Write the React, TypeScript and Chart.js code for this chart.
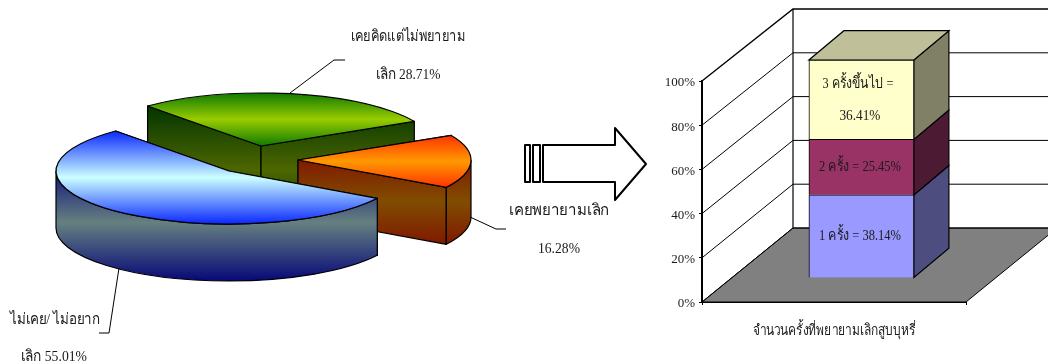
import React, { useEffect, useRef } from "react";
import { Chart, registerables } from "chart.js";

Chart.register(...registerables);

// ---------- data ----------
const pieLabels = ["ไม่เคย/ ไม่อยาก", "เคยคิดแต่ไม่พยายาม", "เคยพยายามเลิก"];
const pieValues = [55.01, 28.71, 16.28];
const barCategories = ["จำนวนครั้งที่พยายามเลิกสูบบุหรี่"];
const barSeriesNames = ["1 ครั้ง", "2 ครั้ง", "3 ครั้งขึ้นไป"];
const onceValues = [38.14];
const twiceValues = [25.45];
const threePlusValues = [36.41];
const barColors = ["#9999FF", "#993366", "#FFFFCC"];
const barSideColors = ["#4D4D80", "#4D1A33", "#808066"];
const barTopColor = "#BFBF99";

// ---------- styling ----------
const FONT = "'Liberation Serif','Noto Sans','DejaVu Serif',serif";
const RY = 53;
const DEPTH = 57;
const sliceOrder = [1, 2, 0];
const sliceStyle = [
  { ox: -1, oy: -1, top: ["#0A28FF", "#CCFFFF"], side: ["#000078", "#668080"], sideRange: [160, 285] },
  { ox: 31, oy: -26, top: ["#0F7A00", "#99CC00"], side: ["#003300", "#4D6600"], sideRange: [104, 236] },
  { ox: 68, oy: -12, top: ["#FF3300", "#FF9900"], side: ["#801A00", "#804D00"], sideRange: [160, 243] },
];

function text(ctx: CanvasRenderingContext2D, s: string, x: number, y: number, w: number, size = 15.5) {
  ctx.save();
  ctx.font = `${size}px ${FONT}`;
  ctx.fillStyle = "#1a1a1a";
  ctx.textAlign = "center";
  ctx.textBaseline = "middle";
  ctx.fillText(s, x, y, w);
  ctx.restore();
}

function poly(ctx: CanvasRenderingContext2D, pts: number[][]) {
  ctx.beginPath();
  pts.forEach((p, i) => (i ? ctx.lineTo(p[0], p[1]) : ctx.moveTo(p[0], p[1])));
}

const pie3dPlugin = {
  id: "pie3d",
  afterDatasetsDraw(chart: any) {
    const ctx: CanvasRenderingContext2D = chart.ctx;
    const arcs = chart.getDatasetMeta(0).data;
    ctx.save();
    ctx.lineJoin = "round";
    ctx.strokeStyle = "#000";
    ctx.lineWidth = 1.2;
    for (const i of sliceOrder) {
      const a = arcs[i];
      const st = sliceStyle[i];
      const rx = a.outerRadius;
      const cx = a.x + st.ox;
      const cy = a.y + st.oy;
      const px = (t: number) => cx + rx * Math.cos(t);
      const py = (t: number) => cy + RY * Math.sin(t);
      const s = a.startAngle;
      const e = a.endAngle;
      let minY = Math.min(cy, py(s), py(e));
      let maxY = Math.max(cy, py(s), py(e));
      for (let k = -1; k <= 2; k++) {
        const up = -Math.PI / 2 + 2 * Math.PI * k;
        const dn = Math.PI / 2 + 2 * Math.PI * k;
        if (up > s && up < e) minY = cy - RY;
        if (dn > s && dn < e) maxY = cy + RY;
      }
      const sideG = ctx.createLinearGradient(0, st.sideRange[0], 0, st.sideRange[1]);
      sideG.addColorStop(0, st.side[0]);
      sideG.addColorStop(0.5, st.side[1]);
      sideG.addColorStop(1, st.side[0]);
      ctx.fillStyle = sideG;
      // cut faces
      for (const t of [s, e]) {
        poly(ctx, [[cx, cy], [px(t), py(t)], [px(t), py(t) + DEPTH], [cx, cy + DEPTH]]);
        ctx.closePath();
        ctx.fill();
        ctx.stroke();
      }
      // outer wall, visible part only
      for (let k = -1; k <= 1; k++) {
        const a0 = Math.max(s + 2 * Math.PI * k, 0);
        const a1 = Math.min(e + 2 * Math.PI * k, Math.PI);
        if (a1 > a0) {
          ctx.beginPath();
          ctx.ellipse(cx, cy, rx, RY, 0, a0, a1);
          ctx.ellipse(cx, cy + DEPTH, rx, RY, 0, a1, a0, true);
          ctx.closePath();
          ctx.fill();
          ctx.stroke();
        }
      }
      // top
      const topG = ctx.createLinearGradient(0, minY, 0, maxY);
      topG.addColorStop(0, st.top[0]);
      topG.addColorStop(0.5, st.top[1]);
      topG.addColorStop(1, st.top[0]);
      ctx.fillStyle = topG;
      ctx.beginPath();
      ctx.moveTo(cx, cy);
      ctx.ellipse(cx, cy, rx, RY, 0, s, e);
      ctx.closePath();
      ctx.fill();
      ctx.stroke();
    }
    // leader lines
    ctx.lineWidth = 1;
    for (const seg of [
      [[290, 93], [334, 60], [345, 60]],
      [[470, 217], [496, 229], [506, 229]],
      [[119, 268], [109, 333], [99, 333]],
    ]) {
      poly(ctx, seg);
      ctx.stroke();
    }
    // arrow
    ctx.lineWidth = 2;
    ctx.fillStyle = "#fff";
    for (const r of [[525, 530], [533, 540]]) {
      poly(ctx, [[r[0], 145], [r[1], 145], [r[1], 182], [r[0], 182]]);
      ctx.closePath();
      ctx.fill();
      ctx.stroke();
    }
    poly(ctx, [[543, 145], [615, 145], [615, 128], [646, 164], [615, 200], [615, 182], [543, 182]]);
    ctx.closePath();
    ctx.fill();
    ctx.stroke();
    ctx.restore();
    // labels
    const pct = (v: number) => `${v.toFixed(2)}%`;
    text(ctx, pieLabels[1], 408, 37, 114);
    text(ctx, `เลิก ${pct(pieValues[1])}`, 408, 75, 65);
    text(ctx, pieLabels[2], 559, 211, 100);
    text(ctx, pct(pieValues[2]), 559, 249, 42);
    text(ctx, pieLabels[0], 55, 320, 90);
    text(ctx, `เลิก ${pct(pieValues[0])}`, 54, 357, 66);
  },
};

const BAR_DX = 27.4;
const BAR_DY = -24;
const BAR_S = 218 / 221;
const SIDE_DX = 35;
const SIDE_DY = -29.3;
const FLOOR_DX = 91;
const FLOOR_DY = -74;

const bar3dPlugin = {
  id: "bar3d",
  beforeDatasetsDraw(chart: any) {
    const ctx: CanvasRenderingContext2D = chart.ctx;
    const { left, right, bottom } = chart.chartArea;
    const yScale = chart.scales.y;
    ctx.save();
    ctx.strokeStyle = "#000";
    ctx.lineWidth = 1;
    // floor
    ctx.fillStyle = "#808080";
    poly(ctx, [[left, bottom], [right, bottom], [right + FLOOR_DX, bottom + FLOOR_DY], [left + FLOOR_DX, bottom + FLOOR_DY]]);
    ctx.closePath();
    ctx.fill();
    ctx.stroke();
    // walls and grid
    const tickValues = yScale.ticks.map((t: any) => t.value);
    for (const v of tickValues) {
      const fy = yScale.getPixelForValue(v);
      const by = bottom + FLOOR_DY - (v / 100) * 219;
      ctx.lineWidth = v === 100 ? 1.4 : 1;
      poly(ctx, [[left, fy], [left + FLOOR_DX, by], [chart.width + 20, by]]);
      ctx.stroke();
    }
    ctx.lineWidth = 1.2;
    poly(ctx, [[left + FLOOR_DX, bottom + FLOOR_DY], [left + FLOOR_DX, bottom + FLOOR_DY - 219]]);
    ctx.stroke();
    // bar depth faces
    const tr = (y: number) => bottom + (y - bottom) * BAR_S + BAR_DY;
    chart.data.datasets.forEach((_: any, i: number) => {
      const el = chart.getDatasetMeta(i).data[0];
      const x1 = el.x + el.width / 2 + BAR_DX;
      const x0 = el.x - el.width / 2 + BAR_DX;
      const yT = tr(el.y);
      const yB = tr(el.base);
      ctx.fillStyle = barSideColors[i];
      poly(ctx, [[x1, yT], [x1 + SIDE_DX, yT + SIDE_DY], [x1 + SIDE_DX, yB + SIDE_DY], [x1, yB]]);
      ctx.closePath();
      ctx.fill();
      ctx.stroke();
      if (i === chart.data.datasets.length - 1) {
        ctx.fillStyle = barTopColor;
        poly(ctx, [[x0, yT], [x1, yT], [x1 + SIDE_DX, yT + SIDE_DY], [x0 + SIDE_DX, yT + SIDE_DY]]);
        ctx.closePath();
        ctx.fill();
        ctx.stroke();
      }
    });
    ctx.restore();
    ctx.save();
    ctx.translate(BAR_DX, BAR_DY + bottom * (1 - BAR_S));
    ctx.scale(1, BAR_S);
  },
  afterDatasetsDraw(chart: any) {
    const ctx: CanvasRenderingContext2D = chart.ctx;
    ctx.restore();
    const { bottom } = chart.chartArea;
    const tr = (y: number) => bottom + (y - bottom) * BAR_S + BAR_DY;
    const fmt = (i: number) => {
      const v = chart.data.datasets[i].data[0] as number;
      return `${v.toFixed(2)}%`;
    };
    const mid = (i: number) => {
      const el = chart.getDatasetMeta(i).data[0];
      return { x: el.x + BAR_DX - 1.5, y: (tr(el.y) + tr(el.base)) / 2 };
    };
    const m0 = mid(0);
    const m1 = mid(1);
    const m2 = mid(2);
    text(ctx, `${barSeriesNames[0]} = ${fmt(0)}`, m0.x, m0.y, 82, 15);
    text(ctx, `${barSeriesNames[1]} = ${fmt(1)}`, m1.x, m1.y, 82, 15);
    text(ctx, `${barSeriesNames[2]} =`, m2.x - 2, m2.y - 16, 71, 15);
    text(ctx, fmt(2), m2.x, m2.y + 16, 41, 15);
    const cat = chart.scales.x.getPixelForValue(0);
    text(ctx, barCategories[0], cat, 331, 163, 15);
  },
};

export default function App() {
  const pieRef = useRef<HTMLCanvasElement>(null);
  const barRef = useRef<HTMLCanvasElement>(null);

  useEffect(() => {
    const pie = new Chart(pieRef.current!, {
      type: "pie",
      data: {
        labels: pieLabels,
        datasets: [{ data: pieValues, backgroundColor: "transparent", borderWidth: 0 }],
      },
      options: {
        responsive: false,
        animation: false,
        rotation: 121,
        radius: 173,
        layout: { padding: { left: 0, top: 0, right: 190, bottom: 20 } },
        plugins: { legend: { display: false }, tooltip: { enabled: false } },
      },
      plugins: [pie3dPlugin],
    } as any);

    const mk = (i: number, data: number[]) => ({
      label: barSeriesNames[i],
      data,
      backgroundColor: barColors[i],
      borderColor: "#000",
      borderWidth: 1,
      barThickness: 105,
      clip: false,
    });
    const bar = new Chart(barRef.current!, {
      type: "bar",
      data: {
        labels: barCategories,
        datasets: [mk(0, onceValues), mk(1, twiceValues), mk(2, threePlusValues)],
      },
      options: {
        responsive: false,
        animation: false,
        layout: { padding: { left: 0, top: 81, right: 104, bottom: 0 } },
        plugins: { legend: { display: false }, tooltip: { enabled: false } },
        scales: {
          x: {
            stacked: true,
            afterFit: (s: any) => { s.height = 62; },
            ticks: { display: false },
            grid: { drawOnChartArea: false, drawTicks: true, tickLength: 3, color: "#000" },
            border: { display: true, color: "#000", width: 1 },
          },
          y: {
            stacked: true,
            min: 0,
            max: 100,
            afterFit: (s: any) => { s.width = 52; },
            ticks: {
              stepSize: 20,
              padding: 4,
              labelOffset: 2,
              color: "#1a1a1a",
              font: { family: FONT, size: 13 },
              callback: (v: any) => `${v}%`,
            },
            grid: { drawOnChartArea: false, drawTicks: true, tickLength: 3, color: "#000" },
            border: { display: true, color: "#000", width: 2 },
          },
        },
      },
      plugins: [bar3dPlugin],
    } as any);

    return () => {
      pie.destroy();
      bar.destroy();
    };
  }, []);

  return (
    <div style={{ position: "fixed", inset: 0, overflow: "hidden", background: "#fff" }}>
      <canvas ref={pieRef} width={650} height={364} style={{ position: "absolute", left: 0, top: 0 }} />
      <canvas ref={barRef} width={420} height={364} style={{ position: "absolute", left: 650, top: 0 }} />
    </div>
  );
}
